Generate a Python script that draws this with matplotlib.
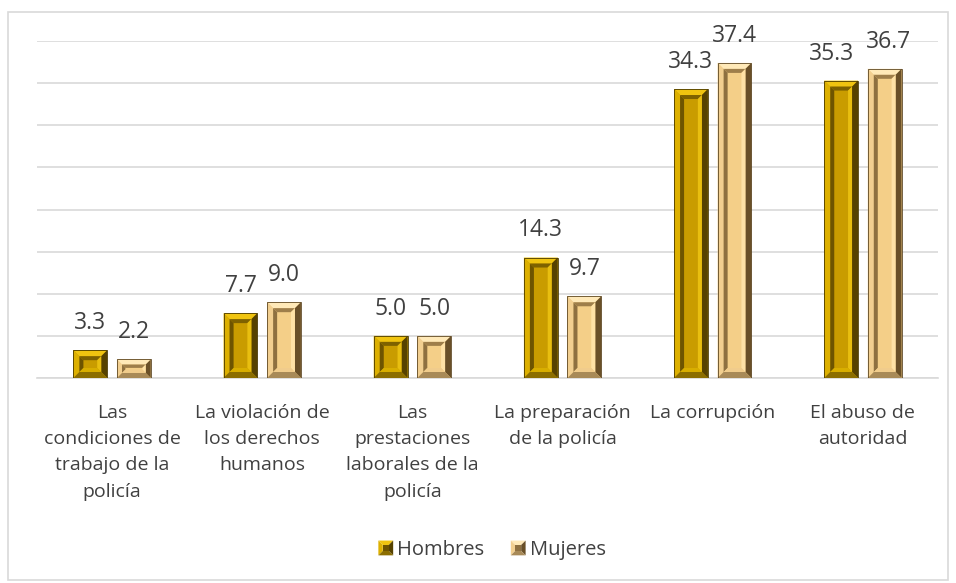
import numpy as np
import matplotlib.pyplot as plt
from matplotlib.patches import Polygon, Rectangle
from matplotlib.legend_handler import HandlerBase

categorias = ["Las\ncondiciones de\ntrabajo de la\npolicía",
              "La violación de\nlos derechos\nhumanos",
              "Las\nprestaciones\nlaborales de la\npolicía",
              "La preparación\nde la policía",
              "La corrupción",
              "El abuso de\nautoridad"]
hombres = [3.3, 7.7, 5.0, 14.3, 34.3, 35.3]
mujeres = [2.2, 9.0, 5.0, 9.7, 37.4, 36.7]

# colores del bisel: cara, borde exterior (arriba, izq, der, abajo), hundido interior
col_h = dict(face="#C99C00", top="#F0C410", left="#DDB000", right="#564200", bottom="#8C6E00",
             itop="#7E6200", ileft="#6E5400", iright="#E8BE10", ibottom="#D8AE00", edge="#4A3A00")
col_m = dict(face="#F4CF88", top="#FFE9B8", left="#F2CF90", right="#6A5028", bottom="#A88A58",
             itop="#9E7E4A", ileft="#8E7040", iright="#FFE2A6", ibottom="#F0CC8C", edge="#5E4824")

fig = plt.figure(figsize=(9.56, 5.83), dpi=100)
fig.patches.append(Rectangle((8/956, 3/583), 940/956, 568/583, transform=fig.transFigure,
                             fill=False, edgecolor="#D9D9D9", linewidth=1.2))
ax = fig.add_axes([37/956, 1 - 378/583, 901/956, 337/583])

x = np.arange(len(categorias))
ancho = 0.225
desp = 0.145
ax.set_xlim(-0.5, len(categorias) - 0.5)
ax.set_ylim(0, 40)

px_x = 901 / len(categorias)   # pixeles por unidad en x
px_y = 337 / 40                # pixeles por unidad en y


def marco(ax, x0, y0, x1, y1, bx, by, cols, z):
    t, l, r, b = cols
    ax.add_patch(Polygon([(x0, y1), (x1, y1), (x1 - bx, y1 - by), (x0 + bx, y1 - by)],
                         closed=True, facecolor=t, edgecolor="none", zorder=z))
    ax.add_patch(Polygon([(x0, y0), (x0, y1), (x0 + bx, y1 - by), (x0 + bx, y0 + by)],
                         closed=True, facecolor=l, edgecolor="none", zorder=z))
    ax.add_patch(Polygon([(x1, y0), (x1, y1), (x1 - bx, y1 - by), (x1 - bx, y0 + by)],
                         closed=True, facecolor=r, edgecolor="none", zorder=z))
    ax.add_patch(Polygon([(x0, y0), (x1, y0), (x1 - bx, y0 + by), (x0 + bx, y0 + by)],
                         closed=True, facecolor=b, edgecolor="none", zorder=z))


def bisel(ax, xc, h, w, c):
    x0, x1 = xc - w / 2, xc + w / 2
    hp = h * px_y
    e = min(1.0, hp / 2 / 11)
    b1, b2 = 6 * e, 4 * e
    ax.add_patch(Rectangle((x0, 0), w, h, facecolor=c["face"], edgecolor="none", zorder=3))
    marco(ax, x0, 0, x1, h, b1 / px_x, b1 / px_y,
          (c["top"], c["left"], c["right"], c["bottom"]), 4)
    marco(ax, x0 + b1 / px_x, b1 / px_y, x1 - b1 / px_x, h - b1 / px_y, b2 / px_x, b2 / px_y,
          (c["itop"], c["ileft"], c["iright"], c["ibottom"]), 4)
    ax.add_patch(Rectangle((x0, 0), w, h, fill=False, edgecolor=c["edge"], linewidth=0.6, zorder=5))


# en el original las etiquetas del último grupo están separadas a mano
ajuste_h = {5: -7}
ajuste_m = {5: 3}

for i in x:
    bisel(ax, i - desp, hombres[i], ancho, col_h)
    bisel(ax, i + desp, mujeres[i], ancho, col_m)
    for xc, v, dx in ((i - desp, hombres[i], ajuste_h.get(i, 0)), (i + desp, mujeres[i], ajuste_m.get(i, 0))):
        ax.annotate(f"{v:.1f}", (xc, v), xytext=(dx, 19.5), textcoords="offset points",
                    ha="center", va="center", fontsize=16.5, color="#404040", family="Open Sans")

ax.set_yticks(np.arange(0, 41, 5))
ax.grid(axis="y", color="#D9D9D9", linewidth=1.2, zorder=0)
ax.set_axisbelow(True)
ax.tick_params(axis="y", left=False, labelleft=False)
ax.tick_params(axis="x", bottom=False, pad=15)
ax.set_xticks(x)
ax.set_xticklabels(categorias, fontsize=14, color="#404040", family="Open Sans", linespacing=1.6, va="top")
for s in ["top", "right", "left"]:
    ax.spines[s].set_visible(False)
ax.spines["bottom"].set_color("#D9D9D9")
ax.spines["bottom"].set_linewidth(1.2)


class HandlerBisel(HandlerBase):
    def __init__(self, c):
        super().__init__()
        self.c = c

    def create_artists(self, legend, orig, xd, yd, w, h, fontsize, trans):
        s = h * 1.05
        x0 = xd + (w - s) / 2
        y0 = yd + (h - s) / 2
        c = self.c
        k = s * 0.3
        arts = [Polygon([(x0, y0 + s), (x0 + s, y0 + s), (x0 + s - k, y0 + s - k), (x0 + k, y0 + s - k)],
                        facecolor=c["top"], transform=trans),
                Polygon([(x0, y0), (x0, y0 + s), (x0 + k, y0 + s - k), (x0 + k, y0 + k)],
                        facecolor=c["left"], transform=trans),
                Polygon([(x0 + s, y0), (x0 + s, y0 + s), (x0 + s - k, y0 + s - k), (x0 + s - k, y0 + k)],
                        facecolor=c["right"], transform=trans),
                Polygon([(x0, y0), (x0 + s, y0), (x0 + s - k, y0 + k), (x0 + k, y0 + k)],
                        facecolor=c["bottom"], transform=trans),
                Rectangle((x0 + k, y0 + k), s - 2 * k, s - 2 * k, facecolor=c["ileft"], transform=trans)]
        return arts


h1 = Rectangle((0, 0), 1, 1)
h2 = Rectangle((0, 0), 1, 1)
leg = fig.legend([h1, h2], ["Hombres", "Mujeres"], loc="center", bbox_to_anchor=(492/956, 1 - 550/583),
                 ncol=2, frameon=False, handler_map={h1: HandlerBisel(col_h), h2: HandlerBisel(col_m)},
                 prop=dict(family="Open Sans", size=14.5), handlelength=0.75, handletextpad=0.2,
                 columnspacing=1.3, labelcolor="#404040")

fig.savefig("out.png", dpi=100)
